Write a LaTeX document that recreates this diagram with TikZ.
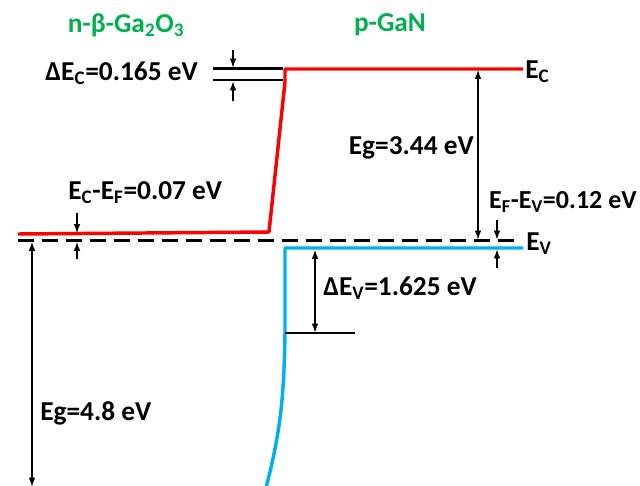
\documentclass[tikz,border=0pt]{standalone}
\usepackage{fontspec}
\setmainfont{Carlito}
\usetikzlibrary{arrows.meta}
\definecolor{titlegreen}{RGB}{0,176,80}
\definecolor{bandred}{RGB}{255,0,0}
\definecolor{bandblue}{RGB}{0,176,240}
\begin{document}
\begin{tikzpicture}[x=0.75pt,y=-0.75pt,
  lbl/.style={font=\fontsize{20.5}{23}\selectfont\bfseries, inner sep=0pt},
  ttl/.style={lbl, text=titlegreen},
  band/.style={line width=2.6pt, line join=round},
  refline/.style={line width=1.6pt},
  dim/.style={line width=1.3pt, {Latex[length=7pt,width=5pt]}-{Latex[length=7pt,width=5pt]}},
  pin/.style={line width=1.3pt, -{Latex[length=7pt,width=5pt]}},
  fermi/.style={line width=1.9pt, dash pattern=on 12pt off 6pt}]
\useasboundingbox (0,0) rectangle (640,486);

% titles
\node[ttl] (t1) at (126,25) {n-β-Ga\textsubscript{2}O\textsubscript{3}};
\node[ttl] (t2) at (390,25) {p-GaN};

% conduction band (red)
\coordinate (ecR) at (523,69);
\coordinate (ecStep) at (285,69);
\coordinate (ecKnee) at (285,82);
\coordinate (ecFoot) at (269,232);
\coordinate (ecL) at (18,234);
\draw[band, bandred] (ecR) -- (ecStep) -- (ecKnee) -- (ecFoot) -- (ecL);

% valence band (blue)
\coordinate (evR) at (523,248);
\coordinate (evStep) at (285,248);
\coordinate (evKnee) at (285,333);
\coordinate (evBot) at (266,488);
\draw[band, bandblue] (evR) -- (evStep) -- (evKnee)
  .. controls (284,395) and (281,430) .. (evBot);

% Fermi level
\coordinate (efL) at (18,240.5);
\coordinate (efR) at (516,240.5);
\draw[fermi] (efL) -- (efR);

% band labels
\node[lbl, anchor=west] (lEc) at (525,72) {E\textsubscript{C}};
\node[lbl, anchor=west] (lEv) at (526,244) {E\textsubscript{V}};

% Delta Ec
\coordinate (dc1a) at (213,68.5);
\coordinate (dc1b) at (283,68.5);
\coordinate (dc2a) at (213,80);
\coordinate (dc2b) at (283,80);
\draw[refline] (dc1a) -- (dc1b);
\draw[refline] (dc2a) -- (dc2b);
\coordinate (dcUpTop) at (233,50);
\coordinate (dcUpEnd) at (233,68);
\coordinate (dcLoTop) at (233,101);
\coordinate (dcLoEnd) at (233,81);
\draw[pin] (dcUpTop) -- (dcUpEnd);
\draw[pin] (dcLoTop) -- (dcLoEnd);
\node[lbl, anchor=east] (lDEc) at (198,73) {ΔE\textsubscript{C}=0.165 eV};

% Eg = 3.44
\coordinate (g1top) at (478,69.5);
\coordinate (g1bot) at (478,240);
\draw[dim] (g1top) -- (g1bot);
\node[lbl, anchor=east] (lEg1) at (474,148) {Eg=3.44 eV};

% EF - EV
\coordinate (fvUpTop) at (497,220);
\coordinate (fvUpEnd) at (497,240);
\coordinate (fvLoTop) at (497,268);
\coordinate (fvLoEnd) at (497,249);
\draw[pin] (fvUpTop) -- (fvUpEnd);
\draw[pin] (fvLoTop) -- (fvLoEnd);
\node[lbl, anchor=east, font=\fontsize{19.5}{22}\selectfont\bfseries] (lFv) at (637,202) {E\textsubscript{F}-E\textsubscript{V}=0.12 eV};

% Delta Ev
\coordinate (dvA) at (285,333);
\coordinate (dvB) at (355,333);
\draw[refline] (dvA) -- (dvB);
\coordinate (dvTop) at (315,249.5);
\coordinate (dvBot) at (315,333);
\draw[dim] (dvTop) -- (dvBot);
\node[lbl, anchor=west] (lDEv) at (323,288) {ΔE\textsubscript{V}=1.625 eV};

% Ec - EF
\coordinate (cfUpTop) at (77,213);
\coordinate (cfUpEnd) at (77,233.5);
\coordinate (cfLoTop) at (77,259);
\coordinate (cfLoEnd) at (77,241.5);
\draw[pin] (cfUpTop) -- (cfUpEnd);
\draw[pin] (cfLoTop) -- (cfLoEnd);
\node[lbl, anchor=west] (lCf) at (68,193) {E\textsubscript{C}-E\textsubscript{F}=0.07 eV};

% Eg = 4.8
\coordinate (g2top) at (32,241.5);
\coordinate (g2bot) at (32,487);
\draw[dim] (g2top) -- (g2bot);
\node[lbl, anchor=west] (lEg2) at (40,413) {Eg=4.8 eV};
\end{tikzpicture}
\end{document}
